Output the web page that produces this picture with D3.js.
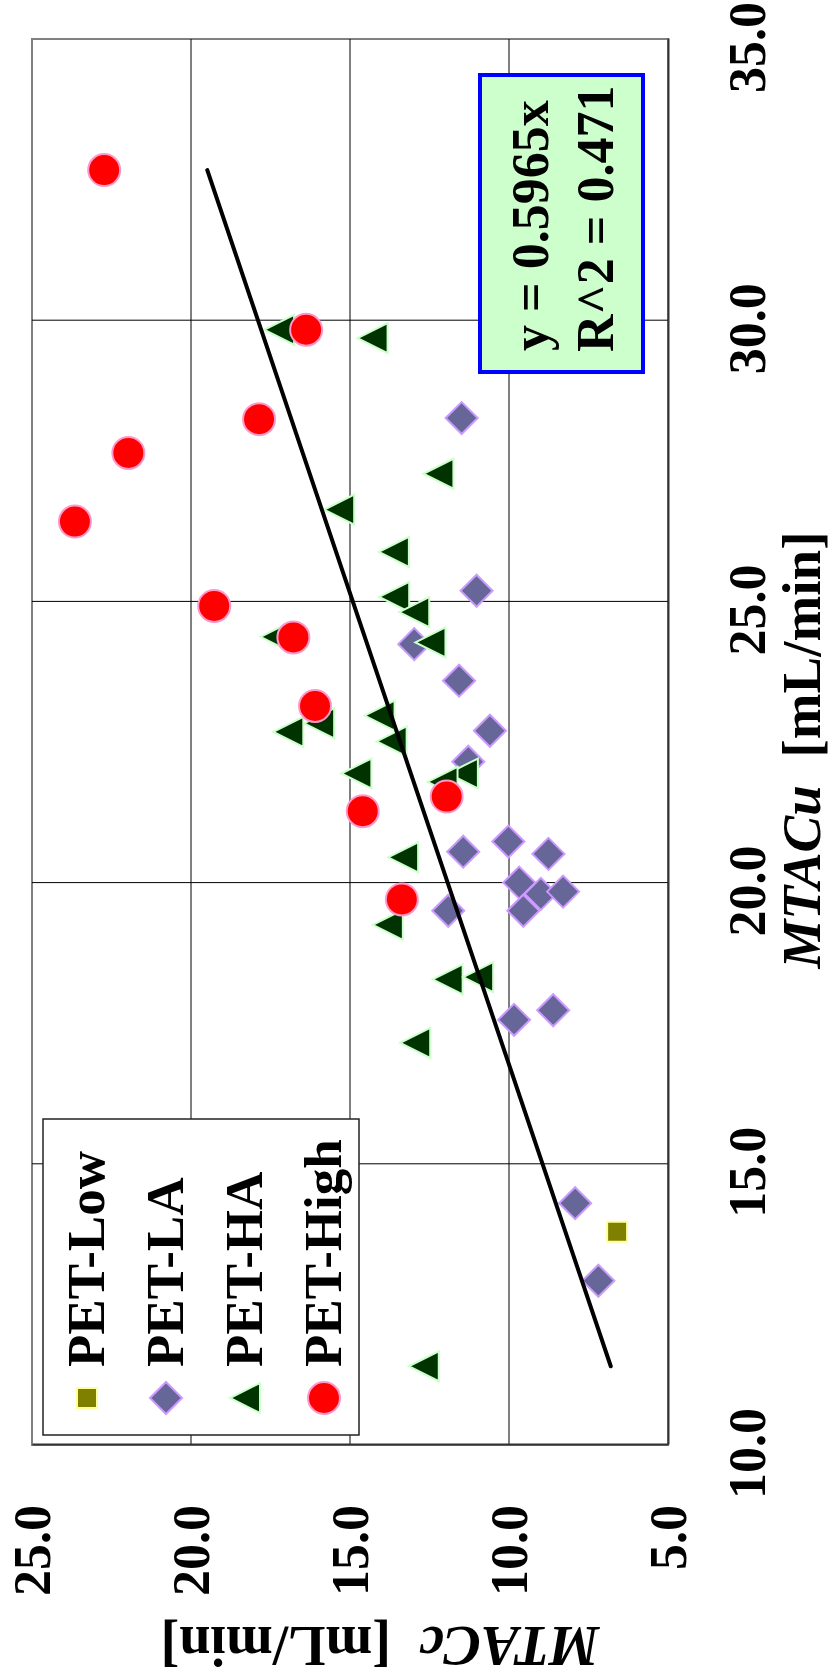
<!DOCTYPE html>
<html>
<head>
<meta charset="utf-8">
<script src="https://cdn.jsdelivr.net/npm/d3@7"></script>
<style>
body { margin: 0; background: #fff; }
svg text { font-family: "Liberation Serif", "Times New Roman", serif; font-weight: bold; fill: #000; }
</style>
</head>
<body>
<div id="chart"></div>
<script>
// values: MTACu on x, MTACc on y (mL/min)
var seriesNames = ["PET-Low", "PET-LA", "PET-HA", "PET-High"];

var lowX = [13.79];
var lowY = [6.60];

var laX = [28.26, 25.19, 24.24, 23.59, 22.70, 22.15, 20.55, 20.73, 20.51, 20.00, 19.80, 19.84, 19.50, 19.50, 17.56, 17.73, 14.30, 12.92];
var laY = [11.49, 11.02, 12.98, 11.57, 10.60, 11.28, 11.44, 10.02, 8.76, 9.68, 9.00, 8.30, 11.91, 9.55, 9.84, 8.61, 7.92, 7.19];

var haX = [29.83, 29.68, 27.27, 26.63, 25.88, 25.08, 24.81, 24.27, 24.37, 22.83, 22.68, 22.97, 22.51, 21.94, 21.94, 21.79, 20.45, 19.25, 18.28, 18.32, 17.15, 11.40];
var haY = [17.23, 14.29, 12.22, 15.34, 13.62, 13.61, 12.98, 12.47, 17.34, 15.97, 16.94, 14.07, 13.69, 14.80, 11.45, 12.09, 13.33, 13.81, 11.93, 10.97, 12.95, 12.68];

var highX = [32.67, 29.83, 28.24, 27.64, 26.42, 24.92, 24.36, 23.14, 21.27, 21.53, 19.70];
var highY = [22.73, 16.38, 17.86, 21.97, 23.65, 19.27, 16.78, 16.10, 14.60, 11.96, 13.37];

var xTicks = [10, 15, 20, 25, 30, 35];
var yTicks = [5, 10, 15, 20, 25];

var slope = 0.5965;
var rSquared = 0.471;

// page is the chart turned a quarter turn to the left
var pageWidth = 833;
var pageHeight = 1679;

var plot = { left: 234, right: 1640, top: 32, bottom: 668 };

var svg = d3.select("#chart").append("svg")
    .attr("width", pageWidth)
    .attr("height", pageHeight);

var chart = svg.append("g")
    .attr("transform", `translate(0,${pageHeight}) rotate(-90)`);

var x = d3.scaleLinear().domain([10, 35]).range([plot.left, plot.right]);
var y = d3.scaleLinear().domain([5, 25]).range([plot.bottom, plot.top]);

// plot area frame
chart.append("rect")
    .attr("x", plot.left)
    .attr("y", plot.top)
    .attr("width", plot.right - plot.left)
    .attr("height", plot.bottom - plot.top)
    .attr("fill", "#fff")
    .attr("stroke", "#808080")
    .attr("stroke-width", 2);

// gridlines
chart.append("g").selectAll("line")
    .data(xTicks.slice(1, -1))
    .enter().append("line")
    .attr("x1", d => x(d)).attr("x2", d => x(d))
    .attr("y1", plot.top).attr("y2", plot.bottom)
    .attr("stroke", "#000").attr("stroke-width", 1);

chart.append("g").selectAll("line")
    .data(yTicks.slice(1, -1))
    .enter().append("line")
    .attr("x1", plot.left).attr("x2", plot.right)
    .attr("y1", d => y(d)).attr("y2", d => y(d))
    .attr("stroke", "#000").attr("stroke-width", 1);

// axes
var xAxis = chart.append("g")
    .attr("transform", `translate(0,${plot.bottom})`)
    .call(d3.axisBottom(x).tickValues(xTicks).tickFormat(d3.format(".1f")).tickSize(0));

var yAxis = chart.append("g")
    .attr("transform", `translate(${plot.left},0)`)
    .call(d3.axisLeft(y).tickValues(yTicks).tickFormat(d3.format(".1f")).tickSize(0));

xAxis.select(".domain").attr("stroke", "#333").attr("stroke-width", 2);
yAxis.select(".domain").attr("stroke", "#333").attr("stroke-width", 2);

xAxis.selectAll("text")
    .attr("font-size", 52)
    .attr("font-family", null)
    .attr("x", -9)
    .attr("y", 97)
    .attr("dy", null);

yAxis.selectAll("text")
    .attr("font-size", 52)
    .attr("font-family", null)
    .attr("x", -60)
    .attr("dy", "0.33em");

// axis titles
var xTitle = chart.append("text")
    .attr("x", 929)
    .attr("y", 820)
    .attr("text-anchor", "middle")
    .attr("font-size", 55)
    .attr("xml:space", "preserve");
xTitle.append("tspan").attr("font-style", "italic").text("MTACu");
xTitle.append("tspan").text("  [mL/min]");

var yTitle = chart.append("text")
    .attr("transform", "translate(52,380) rotate(-90)")
    .attr("text-anchor", "middle")
    .attr("font-size", 56)
    .attr("xml:space", "preserve");
yTitle.append("tspan").attr("font-style", "italic").text("MTACc");
yTitle.append("tspan").text("  [mL/min]");

// marker shapes
function markerPath(kind) {
    var p = d3.path();
    if (kind === "square") {
        p.rect(-10, -10, 20, 20);
    } else if (kind === "diamond") {
        p.moveTo(0, -16); p.lineTo(16, 0); p.lineTo(0, 16); p.lineTo(-16, 0); p.closePath();
    } else if (kind === "triangle") {
        p.moveTo(0, -15); p.lineTo(15, 15); p.lineTo(-15, 15); p.closePath();
    } else {
        p.arc(0, 0, 16, 0, 2 * Math.PI);
    }
    return p.toString();
}

var series = [
    { name: seriesNames[0], xs: lowX, ys: lowY, kind: "square", fill: "#808000", stroke: "#ffff99" },
    { name: seriesNames[1], xs: laX, ys: laY, kind: "diamond", fill: "#666699", stroke: "#cc99ff" },
    { name: seriesNames[2], xs: haX, ys: haY, kind: "triangle", fill: "#003300", stroke: "#ccffcc" },
    { name: seriesNames[3], xs: highX, ys: highY, kind: "circle", fill: "#ff0000", stroke: "#ff99cc" }
];

series.forEach(function(s) {
    var pts = s.xs.map((v, i) => ({ x: v, y: s.ys[i] }));
    chart.append("g").selectAll("path")
        .data(pts)
        .enter().append("path")
        .attr("d", markerPath(s.kind))
        .attr("transform", d => `translate(${x(d.x)},${y(d.y)})`)
        .attr("fill", s.fill)
        .attr("stroke", s.stroke)
        .attr("stroke-width", 2);
});

// trend line y = slope * x over the range of the data
var allX = lowX.concat(laX, haX, highX);
var xExt = d3.extent(allX);
chart.append("line")
    .attr("x1", x(xExt[0])).attr("y1", y(slope * xExt[0]))
    .attr("x2", x(xExt[1])).attr("y2", y(slope * xExt[1]))
    .attr("stroke", "#000")
    .attr("stroke-width", 4)
    .attr("stroke-linecap", "round");

// legend
var legend = chart.append("g").attr("transform", "translate(244,43)");
legend.append("rect")
    .attr("width", 316).attr("height", 316)
    .attr("fill", "#fff").attr("stroke", "#222").attr("stroke-width", 1.5);

var legendRows = legend.selectAll("g.item")
    .data(series)
    .enter().append("g")
    .attr("class", "item")
    .attr("transform", (d, i) => `translate(0,${44 + i * 79})`);

legendRows.append("path")
    .attr("d", d => markerPath(d.kind))
    .attr("transform", "translate(37,0)")
    .attr("fill", d => d.fill)
    .attr("stroke", d => d.stroke)
    .attr("stroke-width", 2);

legendRows.append("text")
    .attr("x", 68)
    .attr("y", 17)
    .attr("font-size", 53)
    .text(d => d.name);

// equation box
var eq = chart.append("g").attr("transform", "translate(1307,480)");
eq.append("rect")
    .attr("width", 297).attr("height", 163)
    .attr("fill", "#ccffcc").attr("stroke", "#0000ff").attr("stroke-width", 4);
eq.append("text")
    .attr("x", 21).attr("y", 68)
    .attr("font-size", 52)
    .text("y = " + slope + "x");
eq.append("text")
    .attr("x", 20).attr("y", 133)
    .attr("font-size", 52)
    .text("R^2 = " + rSquared);
</script>
</body>
</html>
